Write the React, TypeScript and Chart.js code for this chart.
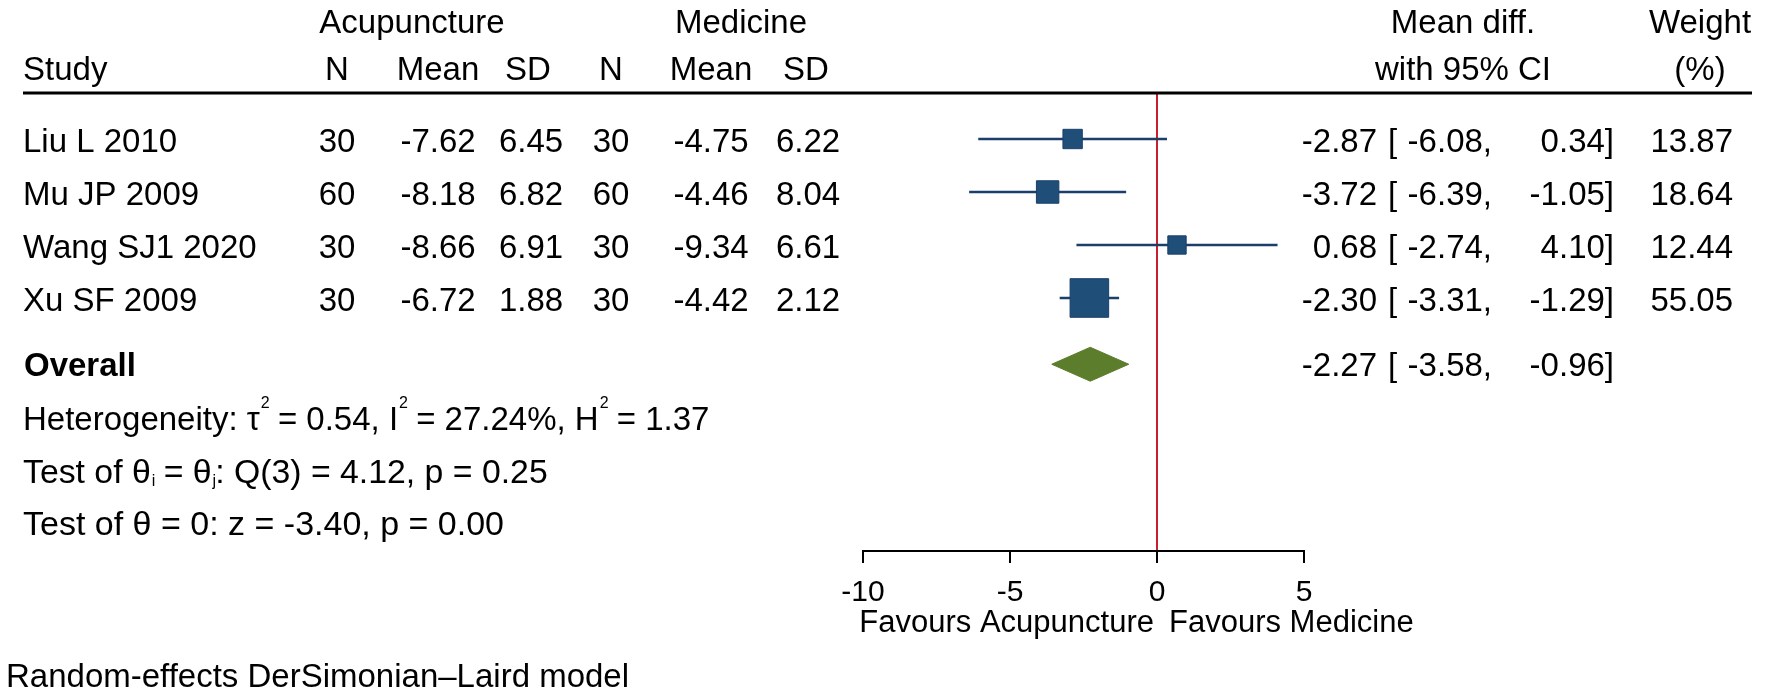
import React, { useEffect, useRef } from "react";
import { Chart, registerables } from "chart.js";

Chart.register(...registerables);

const FAMILY = "'Liberation Sans', Arial, Helvetica, sans-serif";

// ---- data ----
const studies = ["Liu L 2010", "Mu JP 2009", "Wang SJ1 2020", "Xu SF 2009"];
const acuN = [30, 60, 30, 30];
const acuMean = [-7.62, -8.18, -8.66, -6.72];
const acuSD = [6.45, 6.82, 6.91, 1.88];
const medN = [30, 60, 30, 30];
const medMean = [-4.75, -4.46, -9.34, -4.42];
const medSD = [6.22, 8.04, 6.61, 2.12];
const meanDiff = [-2.87, -3.72, 0.68, -2.3];
const ciLow = [-6.08, -6.39, -2.74, -3.31];
const ciHigh = [0.34, -1.05, 4.1, -1.29];
const weights = [13.87, 18.64, 12.44, 55.05];
const overallEst = -2.27;
const overallLow = -3.58;
const overallHigh = -0.96;
const xTicks = [-10, -5, 0, 5];
const tau2 = 0.54;
const i2 = 27.24;
const h2 = 1.37;
const qDf = 3;
const qStat = 4.12;
const qP = 0.25;
const zStat = -3.4;
const zP = 0.0;

// ---- styling / layout ----
const NAVY_LINE = "#1b3f6b";
const NAVY_FILL = "#1f4e79";
const GREEN = "#5b7d2c";
const RED = "#c8202f";
const OVERALL_ROW = 5.25;
const DIAMOND_HALF = 0.32;

const f2 = (v: number) => v.toFixed(2);

type Part = [string, "n" | "sup" | "sub"];

function drawRich(ctx: CanvasRenderingContext2D, x: number, y: number, parts: Part[], size: number) {
  let cx = x;
  for (const [t, kind] of parts) {
    if (kind === "n") {
      ctx.font = `normal ${size}px ${FAMILY}`;
      ctx.fillText(t, cx, y);
      cx += ctx.measureText(t).width;
    } else {
      ctx.font = `normal 16px ${FAMILY}`;
      const dy = kind === "sup" ? -22 : 3;
      ctx.fillText(t, cx + 1, y + dy);
      cx += ctx.measureText(t).width;
    }
  }
}

const tablePlugin = {
  id: "forestTable",
  afterDraw(chart: any) {
    const ctx: CanvasRenderingContext2D = chart.ctx;
    const ys = chart.scales.y;
    const xs = chart.scales.x;
    ctx.save();
    ctx.fillStyle = "#000";
    ctx.textBaseline = "alphabetic";
    const font = (size = 33, weight = "normal") => `${weight} ${size}px ${FAMILY}`;
    const txt = (s: string, x: number, y: number, align: CanvasTextAlign = "left") => {
      ctx.textAlign = align;
      ctx.fillText(s, x, y);
    };

    ctx.font = font();
    // header rows
    txt("Acupuncture", 412, 33, "center");
    txt("Medicine", 741, 33, "center");
    txt("Mean diff.", 1463, 33, "center");
    txt("Weight", 1700, 33, "center");
    txt("Study", 23, 80);
    txt("N", 337, 80, "center");
    txt("Mean", 438, 80, "center");
    txt("SD", 528, 80, "center");
    txt("N", 611, 80, "center");
    txt("Mean", 711, 80, "center");
    txt("SD", 806, 80, "center");
    txt("with 95% CI", 1463, 80, "center");
    txt("(%)", 1700, 80, "center");

    // header rule
    ctx.strokeStyle = "#000";
    ctx.lineWidth = 3;
    ctx.beginPath();
    ctx.moveTo(23, 93);
    ctx.lineTo(1752, 93);
    ctx.stroke();

    // study rows
    studies.forEach((name, i) => {
      const b = ys.getPixelForValue(i + 1) + 13;
      txt(name, 23, b);
      txt(String(acuN[i]), 337, b, "center");
      txt(f2(acuMean[i]), 438, b, "center");
      txt(f2(acuSD[i]), 531, b, "center");
      txt(String(medN[i]), 611, b, "center");
      txt(f2(medMean[i]), 711, b, "center");
      txt(f2(medSD[i]), 808, b, "center");
      txt(f2(meanDiff[i]), 1377, b, "right");
      txt("[", 1388, b);
      txt(f2(ciLow[i]) + ",", 1492, b, "right");
      txt(f2(ciHigh[i]) + "]", 1614, b, "right");
      txt(f2(weights[i]), 1733, b, "right");
    });

    // overall row
    const ob = ys.getPixelForValue(OVERALL_ROW) + 12;
    ctx.font = font(33, "bold");
    txt("Overall", 24, ob);
    ctx.font = font();
    txt(f2(overallEst), 1377, ob, "right");
    txt("[", 1388, ob);
    txt(f2(overallLow) + ",", 1492, ob, "right");
    txt(f2(overallHigh) + "]", 1614, ob, "right");

    // statistics
    ctx.textAlign = "left";
    drawRich(ctx, 23, 430, [
      ["Heterogeneity: \u03c4", "n"], ["2", "sup"], [` = ${f2(tau2)}, I`, "n"], ["2", "sup"],
      [` = ${f2(i2)}%, H`, "n"], ["2", "sup"], [` = ${f2(h2)}`, "n"],
    ], 33);
    drawRich(ctx, 23, 483, [
      ["Test of \u03b8", "n"], ["i", "sub"], [" = \u03b8", "n"], ["j", "sub"],
      [`: Q(${qDf}) = ${f2(qStat)}, p = ${f2(qP)}`, "n"],
    ], 33.8);
    drawRich(ctx, 23, 535, [[`Test of \u03b8 = 0: z = ${f2(zStat)}, p = ${f2(zP)}`, "n"]], 34);

    // favours labels
    const x0 = xs.getPixelForValue(0);
    ctx.font = font(31);
    txt("Favours Acupuncture", x0 - 3, 632, "right");
    txt("Favours Medicine", x0 + 12, 632, "left");

    // footer
    ctx.font = font(33);
    txt("Random-effects DerSimonian\u2013Laird model", 6, 687);
    ctx.restore();
  },
};

export default function App() {
  const ref = useRef<HTMLCanvasElement | null>(null);
  useEffect(() => {
    document.body.style.margin = "0";
    const canvas = ref.current;
    if (!canvas) return;

    const ciSets = studies.map((_, i) => ({
      type: "line" as const,
      data: [
        { x: ciLow[i], y: i + 1 },
        { x: ciHigh[i], y: i + 1 },
      ],
      borderColor: NAVY_LINE,
      borderWidth: 2.5,
      pointRadius: 0,
      fill: false,
      order: 2,
    }));

    const chart = new Chart(canvas, {
      type: "scatter",
      data: {
        datasets: [
          ...ciSets,
          {
            type: "scatter" as const,
            data: meanDiff.map((m, i) => ({ x: m, y: i + 1 })),
            pointStyle: "rect",
            pointRadius: weights.map((w) => (5.2 * Math.sqrt(w)) / Math.SQRT2),
            backgroundColor: NAVY_FILL,
            borderColor: NAVY_LINE,
            borderWidth: 1,
            order: 1,
          },
          {
            type: "line" as const,
            data: [
              { x: overallLow, y: OVERALL_ROW },
              { x: overallEst, y: OVERALL_ROW - DIAMOND_HALF },
              { x: overallHigh, y: OVERALL_ROW },
              { x: overallEst, y: OVERALL_ROW + DIAMOND_HALF },
              { x: overallLow, y: OVERALL_ROW },
            ],
            borderColor: GREEN,
            backgroundColor: GREEN,
            borderWidth: 1,
            pointRadius: 0,
            fill: "shape",
            tension: 0,
            order: 1,
          } as any,
        ],
      },
      options: {
        animation: false,
        responsive: true,
        maintainAspectRatio: false,
        layout: { padding: { left: 863, right: 468, top: 93, bottom: 85 } },
        plugins: { legend: { display: false }, tooltip: { enabled: false } },
        scales: {
          x: {
            type: "linear",
            min: -10,
            max: 5,
            afterBuildTicks: (s: any) => {
              s.ticks = xTicks.map((v) => ({ value: v }));
            },
            afterFit: (s: any) => {
              s.height = 60;
            },
            border: { display: true, color: "#000", width: 2 },
            grid: {
              color: (c: any) => (c.tick && c.tick.value === 0 ? RED : "rgba(0,0,0,0)"),
              lineWidth: 2,
              tickColor: "#000",
              tickLength: 12,
              tickWidth: 2,
              drawOnChartArea: true,
              drawTicks: true,
            },
            ticks: {
              color: "#000",
              padding: 12,
              maxRotation: 0,
              font: { family: FAMILY, size: 30 },
              callback: (v: any) => String(v),
            },
          },
          y: {
            type: "linear",
            display: false,
            reverse: true,
            min: 0.132,
            max: 8.774,
          },
        },
      },
      plugins: [tablePlugin],
    } as any);
    return () => chart.destroy();
  }, []);

  return (
    <div style={{ width: 1772, height: 696, position: "relative", background: "#fff" }}>
      <canvas ref={ref} />
    </div>
  );
}
